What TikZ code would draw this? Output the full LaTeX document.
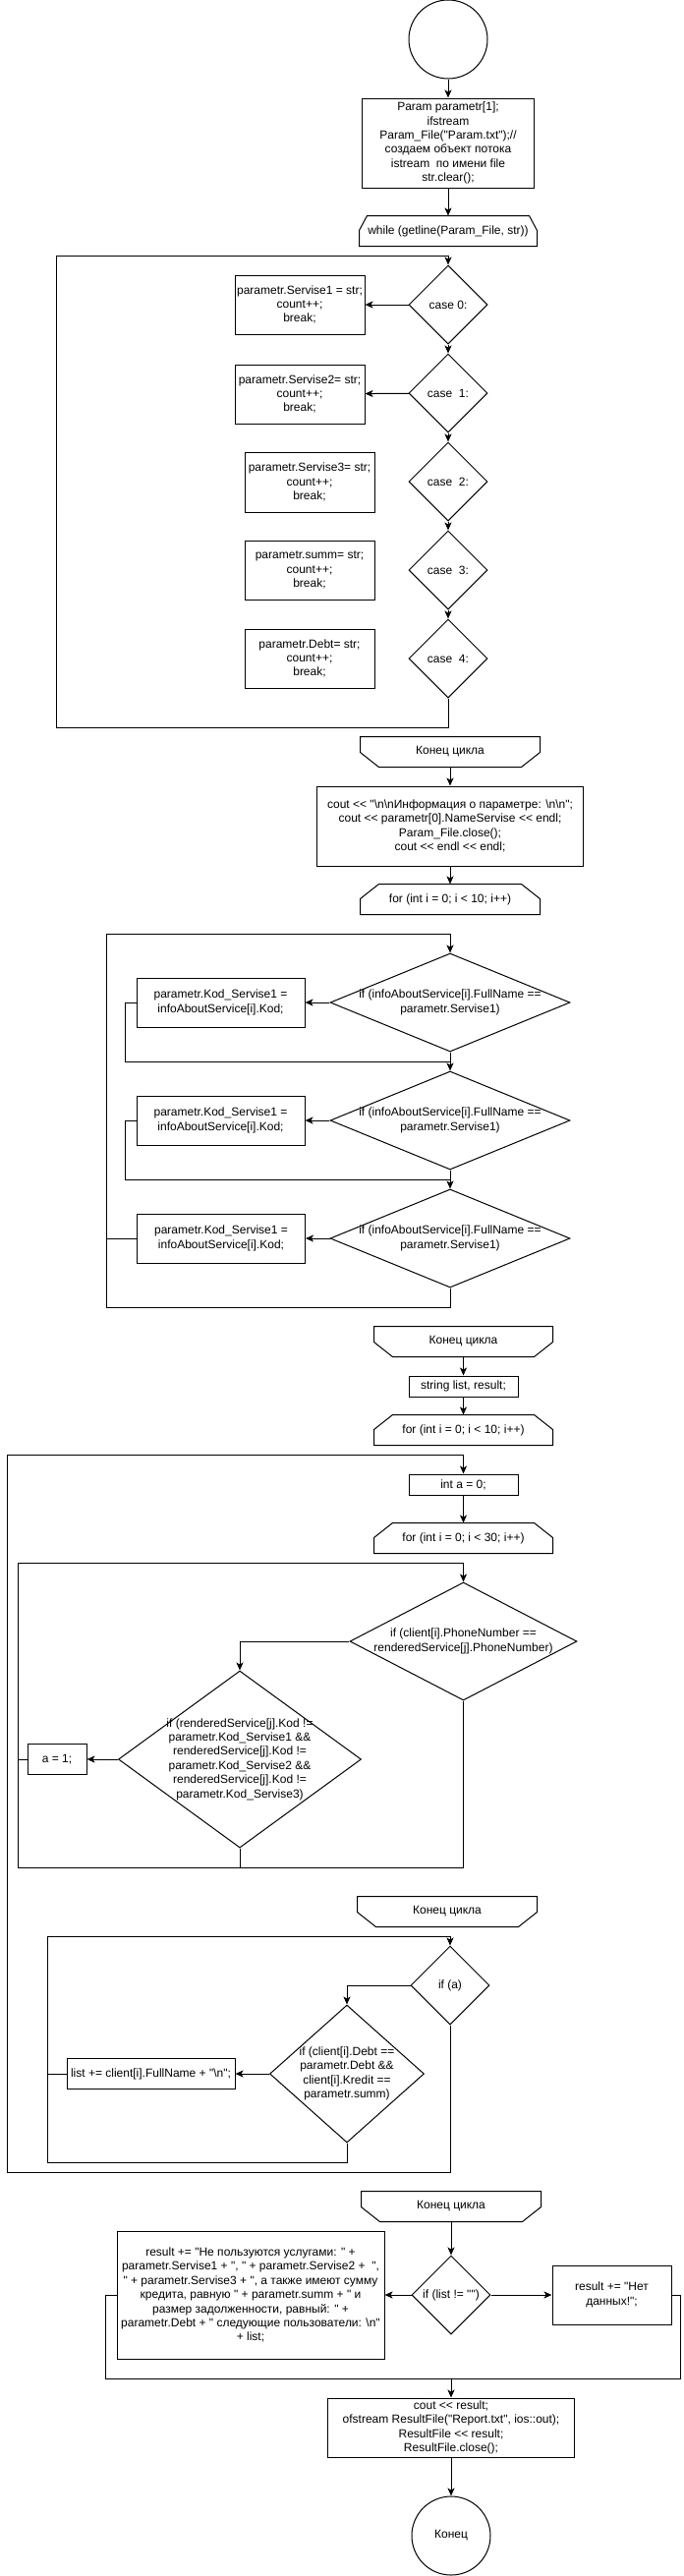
\documentclass[tikz,border=0pt]{standalone}
\usepackage{fontspec}
\setmainfont{Liberation Sans}[Ligatures=TeXOff]
\usepackage{tikz}
\usetikzlibrary{shapes.geometric,arrows.meta}
\newcommand\bsl{\textbackslash}
\newcommand\decide[5]{\node[dec,minimum width=#3,minimum height=#4] (#1) at (#2) {}; \node[dtext] at (#1) {#5};}
\newcommand\loopbeg[5][19]{\node[lbox,minimum width=#4] (#2) at (#3) {#5}; \draw ([yshift=-15pt]#2.north west) -- ([xshift=#1pt]#2.north west) -- ([xshift=-#1pt]#2.north east) -- ([yshift=-15pt]#2.north east) -- (#2.south east) -- (#2.south west) -- cycle;}
\newcommand\loopend[4]{\node[lbox,minimum width=#3] (#1) at (#2) {#4}; \draw (#1.north west) -- (#1.north east) -- ([yshift=15pt]#1.south east) -- ([xshift=-19pt]#1.south east) -- ([xshift=19pt]#1.south west) -- ([yshift=15pt]#1.south west) -- cycle;}

\begin{document}
\begin{tikzpicture}[x=1pt,y=1pt,line width=1pt,font=\fontsize{12}{14.4}\selectfont]
\tikzstyle{proc}=[draw,rectangle,inner sep=2pt,align=center]
\tikzstyle{dec}=[draw,diamond,inner sep=0pt]
\tikzstyle{dtext}=[align=center,inner sep=0pt]
\tikzstyle{lbox}=[rectangle,minimum height=30pt,inner sep=2pt,align=center]
\tikzstyle{term}=[draw,circle,minimum size=80pt,inner sep=0pt]
\tikzstyle{arr}=[-{Stealth[length=8pt,width=7pt,inset=2pt]}]
\useasboundingbox (0,0) rectangle (696,-2621);

\node[term] (start) at (456,-40) {};
\node[proc,minimum width=175pt,minimum height=91pt] (init) at (456,-145.5) {Param parametr[1];\\ifstream\\Param\_File("Param.txt");//\\создаем объект потока\\istream\ \ по имени file\\str.clear();};
\loopbeg[8]{while}{456,-235}{180pt}{while (getline(Param\_File, str))}
\draw[arr] (start) -- (init);
\draw[arr] (init) -- (while);

\decide{c0}{456,-310}{80pt}{80pt}{case 0:}
\decide{c1}{456,-400}{80pt}{80pt}{case\ \ 1:}
\decide{c2}{456,-490}{80pt}{80pt}{case\ \ 2:}
\decide{c3}{456,-580}{80pt}{80pt}{case\ \ 3:}
\decide{c4}{456,-670}{80pt}{80pt}{case\ \ 4:}
\node[proc,minimum width=132pt,minimum height=60pt] (s0) at (305,-310) {parametr.Servise1 = str;\\count++;\\break;};
\node[proc,minimum width=132pt,minimum height=60pt] (s1) at (305,-401) {parametr.Servise2= str;\\count++;\\break;};
\node[proc,minimum width=132pt,minimum height=61pt] (s2) at (315,-490.5) {parametr.Servise3= str;\\count++;\\break;};
\node[proc,minimum width=132pt,minimum height=60pt] (s3) at (315,-580) {parametr.summ= str;\\count++;\\break;};
\node[proc,minimum width=132pt,minimum height=60pt] (s4) at (315,-670) {parametr.Debt= str;\\count++;\\break;};
\draw[arr] (c0) -- (s0);
\draw[arr] (c1) -- (s1);
\draw[arr] (c0) -- (c1);
\draw[arr] (c1) -- (c2);
\draw[arr] (c2) -- (c3);
\draw[arr] (c3) -- (c4);
\coordinate (l1b) at (57,-740);
\coordinate (l1t) at (456,-260);
\draw[arr] (c4) |- (l1b) |- (l1t) -- (c0);

\loopend{end1}{458,-765}{182pt}{Конец цикла}
\node[proc,minimum width=271pt,minimum height=81pt] (info) at (458,-840.5) {cout << "\bsl n\bsl nИнформация о параметре: \bsl n\bsl n";\\cout << parametr[0].NameServise << endl;\\Param\_File.close();\\cout << endl << endl;};
\loopbeg{for1}{458,-915}{182pt}{for (int i = 0; i < 10; i++)}
\draw[arr] (end1) -- (info);
\draw[arr] (info) -- (for1);

\decide{d1}{458,-1020}{244pt}{100pt}{if (infoAboutService[i].FullName ==\\parametr.Servise1)}
\decide{d2}{458,-1140}{244pt}{100pt}{if (infoAboutService[i].FullName ==\\parametr.Servise1)}
\decide{d3}{458,-1260}{244pt}{100pt}{if (infoAboutService[i].FullName ==\\parametr.Servise1)}
\node[proc,minimum width=171pt,minimum height=50pt] (k1) at (224.5,-1020) {parametr.Kod\_Servise1 =\\infoAboutService[i].Kod;};
\node[proc,minimum width=171pt,minimum height=50pt] (k2) at (224.5,-1140) {parametr.Kod\_Servise1 =\\infoAboutService[i].Kod;};
\node[proc,minimum width=171pt,minimum height=50pt] (k3) at (225,-1260) {parametr.Kod\_Servise1 =\\infoAboutService[i].Kod;};
\coordinate (j1) at (458,-1080);
\coordinate (j2) at (458,-1200);
\draw[arr] (d1) -- (k1);
\draw[arr] (d2) -- (k2);
\draw[arr] (d3) -- (k3);
\draw (d1) -- (j1);
\draw (d2) -- (j2);
\draw[arr] (k1.west) -- ++(-11,0) |- (j1) -- (d2);
\draw[arr] (k2.west) -- ++(-11,0) |- (j2) -- (d3);
\coordinate (l2b) at (108,-1330);
\coordinate (l2t) at (458,-950);
\draw[arr] (d3) |- (l2b) |- (l2t) -- (d1);
\draw (k3.west) -- (k3.west -| l2b);

\loopend{end2}{471.5,-1365}{181pt}{Конец цикла}
\node[proc,minimum width=111pt,minimum height=21pt] (decl) at (471.5,-1410.5) {string list, result;};
\loopbeg{for2}{471.5,-1455}{181pt}{for (int i = 0; i < 10; i++)}
\node[proc,minimum width=111pt,minimum height=21pt] (inita) at (471.5,-1510.5) {int a = 0;};
\loopbeg{for3}{471.5,-1565}{181pt}{for (int i = 0; i < 30; i++)}
\draw[arr] (end2) -- (decl);
\draw[arr] (decl) -- (for2);
\draw[arr] (inita) -- (for3);

\decide{dph}{471.5,-1670}{231pt}{120pt}{if (client[i].PhoneNumber ==\\renderedService[j].PhoneNumber)}
\decide{dk}{244,-1790}{247pt}{180pt}{if (renderedService[j].Kod !=\\parametr.Kod\_Servise1 \&\&\\renderedService[j].Kod !=\\parametr.Kod\_Servise2 \&\&\\renderedService[j].Kod !=\\parametr.Kod\_Servise3)}
\node[proc,minimum width=60pt,minimum height=31pt] (seta) at (58,-1790) {a = 1;};
\draw[arr] (dph) -| (dk);
\draw[arr] (dk) -- (seta);
\coordinate (l4b) at (18,-1900);
\coordinate (l4t) at (471.5,-1590);
\draw[arr] (dph) |- (l4b) |- (l4t) -- (dph);
\draw (dk) -- (dk |- l4b);
\draw (seta) -- (seta -| l4b);

\loopend{end3}{455,-1945}{182pt}{Конец цикла}
\decide{ifa}{458,-2020}{80pt}{80pt}{if (a)}
\decide{dd}{353,-2110}{157pt}{140pt}{if (client[i].Debt ==\\parametr.Debt \&\&\\client[i].Kredit ==\\parametr.summ)}
\node[proc,minimum width=171pt,minimum height=31pt] (addl) at (153.5,-2110) {list += client[i].FullName + "\bsl n";};
\draw[arr] (ifa) -| (dd);
\draw[arr] (dd) -- (addl);
\coordinate (l5b) at (48,-2200);
\coordinate (l5t) at (458,-1970);
\draw[arr] (dd) |- (l5b) |- (l5t) -- (ifa);
\draw (addl) -- (addl -| l5b);
\coordinate (l3b) at (7,-2210);
\coordinate (l3t) at (471.5,-1480);
\draw[arr] (ifa) |- (l3b) |- (l3t) -- (inita);

\loopend{end4}{459,-2245}{182pt}{Конец цикла}
\decide{dl}{459,-2335}{80pt}{80pt}{if (list != "")}
\node[proc,minimum width=272pt,minimum height=130pt] (yes) at (255,-2335) {result += "Не пользуются услугами: " +\\parametr.Servise1 + ", " + parametr.Servise2 +\ \ ",\\" + parametr.Servise3 + ", а также имеют сумму\\кредита, равную " + parametr.summ + " и\\размер задолженности, равный: " +\\parametr.Debt + " следующие пользователи: \bsl n"\\+ list;};
\node[proc,minimum width=121pt,minimum height=60pt] (no) at (622.5,-2335) {result += "Нет\\данных!";};
\draw[arr] (end4) -- (dl);
\draw[arr] (dl) -- (yes);
\draw[arr] (dl) -- (no);
\coordinate (m1) at (459,-2420);
\draw (yes.west) -- ++(-11,0) |- (m1);
\draw (no.east) -- ++(9,0) |- (m1);
\node[proc,minimum width=251pt,minimum height=60pt] (out) at (459,-2470) {cout << result;\\ofstream ResultFile("Report.txt", ios::out);\\ResultFile << result;\\ResultFile.close();};
\node[term] (fin) at (459,-2580) {Конец};
\draw[arr] (m1) -- (out);
\draw[arr] (out) -- (fin);
\end{tikzpicture}
\end{document}
